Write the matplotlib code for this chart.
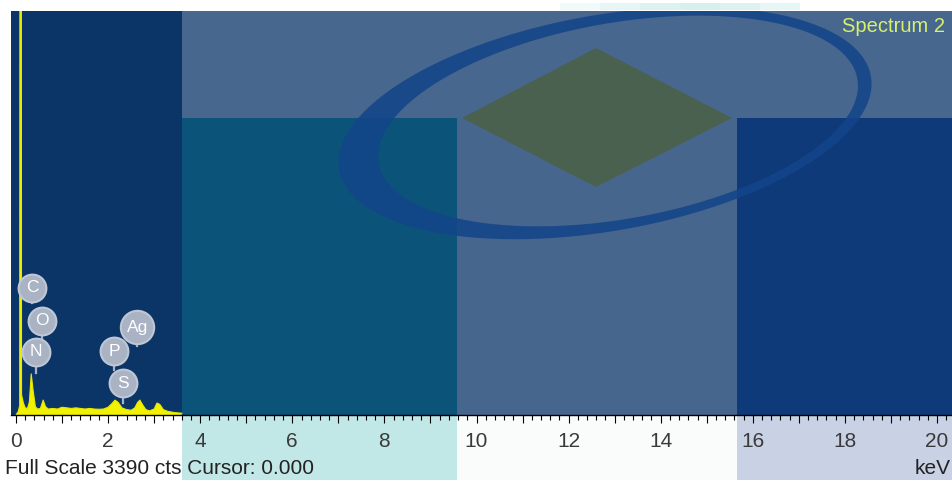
import numpy as np
import matplotlib
matplotlib.use('Agg')
import matplotlib.pyplot as plt
from matplotlib.patches import Rectangle, Polygon, PathPatch
from matplotlib.path import Path
from matplotlib.ticker import MultipleLocator, FuncFormatter
from matplotlib.transforms import Affine2D

plt.rcParams['font.family'] = ['Liberation Sans', 'DejaVu Sans']

W, H = 952, 480

# EDS spectrum (keV, counts)
energy_kev = [0.00, 0.05, 0.08, 0.09, 0.11, 0.12, 0.16, 0.20, 0.25, 0.29, 0.33, 0.37,
              0.42, 0.47, 0.53, 0.59, 0.64, 0.70, 0.80, 0.90, 1.00, 1.10, 1.20, 1.30,
              1.40, 1.50, 1.60, 1.70, 1.80, 1.90, 2.00, 2.08, 2.15, 2.22, 2.30, 2.40,
              2.50, 2.58, 2.64, 2.69, 2.75, 2.82, 2.90, 3.00, 3.06, 3.12, 3.20, 3.30,
              3.45, 3.60]
counts = [0, 30, 80, 9000, 9000, 170, 100, 60, 55, 110, 345, 210,
          70, 50, 55, 125, 70, 50, 55, 50, 65, 60, 55, 60,
          55, 50, 55, 50, 48, 50, 65, 95, 125, 105, 60, 45,
          40, 60, 105, 125, 85, 45, 35, 50, 100, 90, 45, 30,
          20, 15]
full_scale = 3390

# element labels: badge position and where the stem ends
elements = ['C', 'O', 'N', 'P', 'S', 'Ag']
label_kev = [0.35, 0.56, 0.43, 2.13, 2.32, 2.63]
label_cts = [1066, 789, 529, 537, 268, 738]
stem_cts = [940, 638, 352, 378, 101, 579]

major_ticks = list(range(0, 21))


fig = plt.figure(figsize=(W / 100, H / 100), dpi=100)
fig.patch.set_facecolor('white')
# pixel coordinates, origin at top-left
px = Affine2D().scale(1 / W, -1 / H).translate(0, 1) + fig.transFigure


def box(x0, y0, x1, y1, color, z=-5):
    r = Rectangle((x0, y0), x1 - x0, y1 - y0, transform=px, facecolor=color,
                  edgecolor='none', zorder=z)
    fig.add_artist(r)
    return r


# background of the screenshot, with the logo watermark on top of it
box(11, 11, 182, 415, '#0b3566')
box(182, 11, 952, 118, '#47678f')
box(182, 118, 457, 415, '#0c5379')
box(457, 118, 737, 415, '#47668e')
box(737, 118, 952, 415, '#0f3a79')
box(182, 415, 457, 480, '#c2e7e7')
box(457, 415, 737, 480, '#fafcfc')
box(737, 415, 952, 480, '#c9d1e5')
# faint top of the logo ring showing above the plot
for i, c in enumerate(['#f1fafa', '#e6f6f6', '#dcf2f2', '#d6f0f0', '#dcf2f2', '#e6f6f6']):
    box(560 + i * 40, 3, 600 + i * 40, 10, c)


def ellipse_pts(cx, cy, a, b, ang, n=240):
    t = np.linspace(0, 2 * np.pi, n)
    th = np.radians(ang)
    x = cx + a * np.cos(t) * np.cos(th) - b * np.sin(t) * np.sin(th)
    y = cy + a * np.cos(t) * np.sin(th) + b * np.sin(t) * np.cos(th)
    return np.column_stack([x, y])


outer = ellipse_pts(605, 123, 270, 108, -10)
inner = ellipse_pts(618, 121, 243, 98, -10)[::-1]
verts = np.concatenate([outer, inner])
codes = ([Path.MOVETO] + [Path.LINETO] * (len(outer) - 2) + [Path.CLOSEPOLY]) * 2
ring = PathPatch(Path(verts, codes), transform=px, facecolor='#13448a',
                 edgecolor='none', alpha=0.85, zorder=-4)
fig.add_artist(ring)
clip = Rectangle((11, 11), 941, 404, transform=px)
ring.set_clip_path(clip)

diamond = Polygon([(596, 48), (462, 118), (596, 187), (732, 118)], closed=True,
                  transform=px, facecolor='#4a6150', edgecolor='none', zorder=-4)
fig.add_artist(diamond)

# spectrum axes
ax = fig.add_axes([11 / W, 1 - 415 / H, 941 / W, 404 / H])
ax.set_facecolor('none')
ax.fill_between(energy_kev, counts, color='#f2f200', lw=0, zorder=2)
ax.plot(energy_kev, counts, color='#e8e800', lw=0.8, zorder=2)

for el, x, y, s in zip(elements, label_kev, label_cts, stem_cts):
    ax.plot([x, x], [s, y], color='#a8b2c4', lw=1.6, zorder=3)
    ms = 24 if len(el) > 1 else 20
    ax.plot(x, y, 'o', ms=ms, mfc='#a9b3c4', mec='#bfc7d6', mew=1.5, zorder=4)
    ax.text(x, y, el, color='white', fontsize=12.5, ha='center', va='center', zorder=5)

ax.set_xlim(-0.109, 20.326)
ax.set_ylim(0, full_scale)

for side in ['left', 'right', 'top']:
    ax.spines[side].set_visible(False)
ax.spines['bottom'].set_color('black')
ax.spines['bottom'].set_linewidth(1.0)

ax.set_yticks([])
ax.set_xticks(major_ticks)
ax.xaxis.set_minor_locator(MultipleLocator(0.2))
ax.xaxis.set_major_formatter(FuncFormatter(lambda v, p: f'{v:.0f}' if round(v) % 2 == 0 else ''))
ax.tick_params(axis='x', which='major', direction='out', length=5.8, width=0.8,
               color='black', labelsize=15, labelcolor='#3a3a3a', pad=6.5)
ax.tick_params(axis='x', which='minor', direction='out', length=3.4, width=0.8, color='black')

fig.text(5 / W, 1 - 468 / H, 'Full Scale 3390 cts Cursor: 0.000', fontsize=15,
         ha='left', va='center', color='#222222')
fig.text(951 / W, 1 - 468 / H, 'keV', fontsize=15, ha='right', va='center', color='#222222')
fig.text(945 / W, 1 - 27 / H, 'Spectrum 2', fontsize=14.5, ha='right', va='center',
         color='#d8f06a')

fig.savefig('out.png', dpi=100)
